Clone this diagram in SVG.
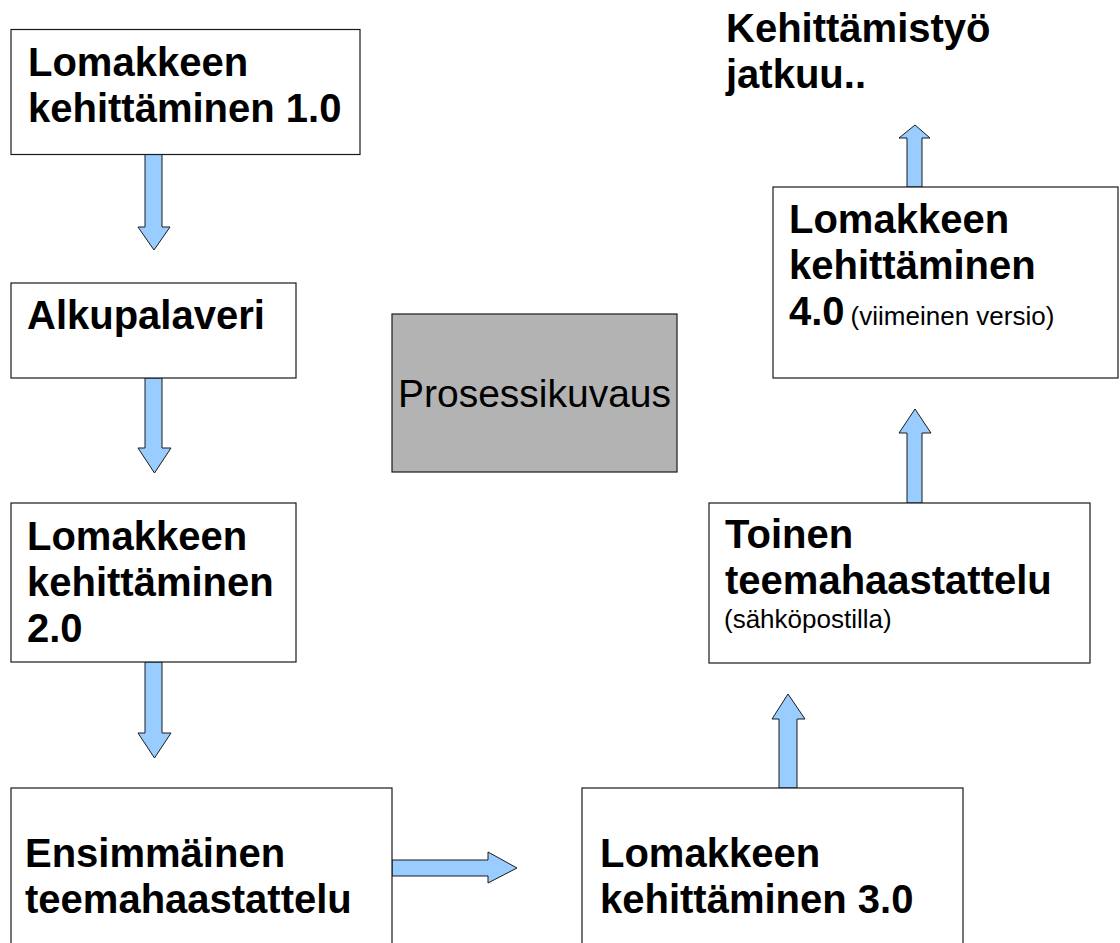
<svg xmlns="http://www.w3.org/2000/svg" width="1120" height="943" viewBox="0 0 1120 943">
<style>
.box{fill:#ffffff;stroke:#1a1a1a;stroke-width:1.2}
.grey{fill:#b3b3b3;stroke:#1a1a1a;stroke-width:1.2}
.arr{fill:#99ccff;stroke:#1a1a1a;stroke-width:1}
.b{font-family:"Liberation Sans",Arial,sans-serif;font-weight:bold;font-size:40px;fill:#000}
.r{font-family:"Liberation Sans",Arial,sans-serif;font-size:26px;fill:#000}
.big{font-family:"Liberation Sans",Arial,sans-serif;font-size:39px;fill:#000}
</style>
<rect width="1120" height="943" fill="#ffffff"/>
<g id="connectors">
<polygon class="arr" points="145,154 162,154 162,227 170,227 154,250 138,227 145,227"/>
<polygon class="arr" points="145,378 162,378 162,448 171,448 154.5,473 138,448 145,448"/>
<polygon class="arr" points="145,662 162,662 162,733 171,733 154.5,758 138,733 145,733"/>
<polygon class="arr" points="392,860 488,860 488,852 517,868 488,883 488,876 392,876"/>
<polygon class="arr" points="779,788 797,788 797,719 805,719 788,694 772,719 779,719"/>
<polygon class="arr" points="907,503 922,503 922,433 931,433 915,409 899,433 907,433"/>
<polygon class="arr" points="907,187 922,187 922,138 930,138 915,125 899,138 907,138"/>
</g>
<g id="node-lomake1">
<rect class="box" x="11" y="29.5" width="349" height="125"/>
<text class="b" x="28" y="76">Lomakkeen</text>
<text class="b" x="28" y="122">kehittäminen 1.0</text>
</g>
<g id="node-alkupalaveri">
<rect class="box" x="11" y="283" width="285" height="95"/>
<text class="b" x="27" y="329">Alkupalaveri</text>
</g>
<g id="node-lomake2">
<rect class="box" x="11" y="503" width="285" height="159"/>
<text class="b" x="27" y="550">Lomakkeen</text>
<text class="b" x="27" y="596">kehittäminen</text>
<text class="b" x="27" y="642">2.0</text>
</g>
<g id="node-ensimmainen">
<rect class="box" x="11" y="788" width="381" height="170"/>
<text class="b" x="25" y="867">Ensimmäinen</text>
<text class="b" x="25" y="913">teemahaastattelu</text>
</g>
<g id="node-lomake3">
<rect class="box" x="582" y="788" width="381" height="170"/>
<text class="b" x="600" y="867">Lomakkeen</text>
<text class="b" x="600" y="913">kehittäminen 3.0</text>
</g>
<g id="node-prosessikuvaus">
<rect class="grey" x="392" y="314" width="285" height="158"/>
<text class="big" x="534.5" y="407" text-anchor="middle">Prosessikuvaus</text>
</g>
<g id="node-toinen">
<rect class="box" x="709" y="503" width="381" height="160"/>
<text class="b" x="725" y="548">Toinen</text>
<text class="b" x="725" y="594">teemahaastattelu</text>
<text class="r" x="724" y="628">(sähköpostilla)</text>
</g>
<g id="node-lomake4">
<rect class="box" x="773" y="187" width="345" height="191"/>
<text class="b" x="789" y="233">Lomakkeen</text>
<text class="b" x="789" y="279">kehittäminen</text>
<text x="789" y="325"><tspan class="b">4.0</tspan><tspan class="r" dx="6">(viimeinen versio)</tspan></text>
</g>
<g id="node-jatkuu">
<text class="b" x="726" y="42">Kehittämistyö</text>
<text class="b" x="726" y="88">jatkuu..</text>
</g>
</svg>
